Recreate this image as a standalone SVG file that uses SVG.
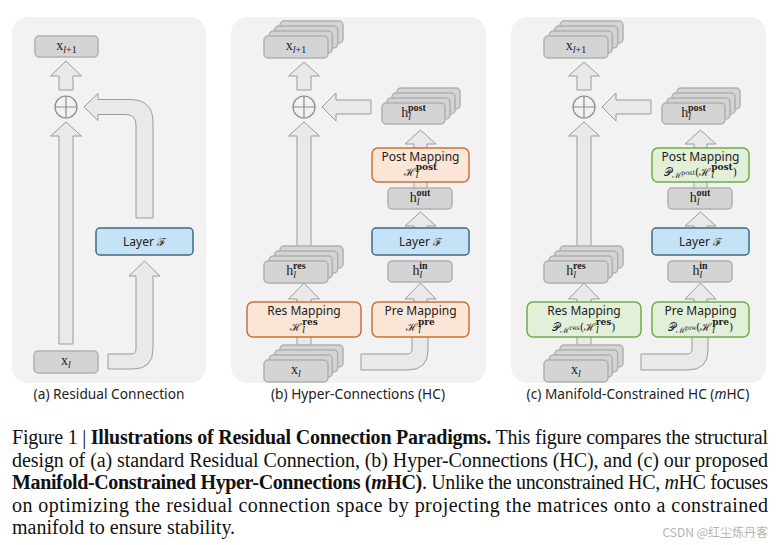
<svg xmlns="http://www.w3.org/2000/svg" width="781" height="545" viewBox="0 0 781 545">
<style>
.bg{fill:#f2f2f2}
.ar{fill:#e9e9e9;stroke:#9b9b9b;stroke-width:1}
.gb{fill:#d4d4d4;stroke:#b0b0b0;stroke-width:1.5}
.bl{fill:#c6e3f5;stroke:#3b6b85;stroke-width:1.5}
.or{fill:#fbe5d6;stroke:#c8713a;stroke-width:1.5}
.gr{fill:#e2f0d9;stroke:#70ad47;stroke-width:1.5}
.pc{fill:none;stroke:#8c8c8c;stroke-width:1.2}
.lb{font-family:"Noto Sans","DejaVu Sans",sans-serif;font-size:12px;fill:#222;text-anchor:middle}
.m{font-family:"Liberation Serif","DejaVu Serif",serif;font-size:14px;fill:#222;text-anchor:middle}
.mc{font-family:"DejaVu Serif","Liberation Serif",serif;font-size:11px;fill:#222;text-anchor:middle}
.sb{font-size:10px;font-style:italic}
.sp{font-size:10px;font-weight:bold}
.cap{font-family:"Noto Sans","DejaVu Sans",sans-serif;font-size:13.7px;fill:#222;text-anchor:middle}
.fig{font-family:"Liberation Serif",serif;font-size:20px;fill:#111}
</style>
<defs>
<g id="plus"><circle cx="0" cy="0" r="11" class="pc"/><path d="M-11,0H11M0,-11V11" class="pc"/></g>
</defs>

<g id="backgrounds">
<rect class="bg" x="12" y="17" width="194" height="366" rx="16"/>
<rect class="bg" x="231" y="17" width="255" height="366" rx="16"/>
<rect class="bg" x="511" y="17" width="255" height="366" rx="16"/>
</g>

<g id="connectors">
<path class="ar" d="M66,61 L81.5,76 L73,76 L73,90 L59,90 L59,76 L50.5,76 Z"/>
<path class="ar" d="M66,122 L81.5,136 L73,136 L73,344 L59,344 L59,136 L50.5,136 Z"/>
<path class="ar" d="M108,354 L131,354 Q136,354 136,349 L136,276 L129,276 L144.5,261 L160,276 L153,276 L153,349 Q153,369 133,369 L108,369 Z"/>
<path class="ar" d="M136,218 L136,125 Q136,114.5 125.5,114.5 L98,114.5 L98,120.5 L84,107 L98,93.5 L98,99.5 L130,99.5 Q153,99.5 153,122.5 L153,218 Z"/>
<g id="conn-b">
<path class="ar" d="M304,62 L319.5,76 L311,76 L311,90 L297,90 L297,76 L288.5,76 Z"/>
<path class="ar" d="M322,107 L336,93 L336,100 L371,100 L371,114 L336,114 L336,121 Z"/>
<path class="ar" d="M304,122 L319.5,136 L311,136 L311,250 L297,250 L297,136 L288.5,136 Z"/>
<path class="ar" d="M304,283 L319.5,299 L311,299 L311,310 L297,310 L297,299 L288.5,299 Z"/>
<path class="ar" d="M297,330 L311,330 L311,352 L297,352 Z"/>
<path class="ar" d="M420.5,130 L436,144 L427,144 L427,195 L414,195 L414,144 L405,144 Z"/>
<path class="ar" d="M420.5,212 L436,226 L427,226 L427,235 L414,235 L414,226 L405,226 Z"/>
<path class="ar" d="M420.5,283 L436,299 L427,299 L427,310 L414,310 L414,299 L405,299 Z"/>
<path class="ar" d="M361,354 L407,354 Q412,354 412,349 L412,330 L428,330 L428,350 Q428,370 408,370 L361,370 Z"/>
</g>
<use href="#conn-b" transform="translate(280,0)"/>
</g>

<g id="plus-a"><use href="#plus" x="66" y="107"/></g>
<g id="plus-b"><use href="#plus" x="304" y="107"/></g>
<g id="plus-c"><use href="#plus" x="584" y="107"/></g>

<g id="a-xl1"><rect class="gb" x="35" y="36" width="63" height="21" rx="4"/>
<text class="m" x="66.5" y="50">x<tspan class="sb" dy="3">l</tspan><tspan font-size="10">+1</tspan></text></g>
<g id="a-layer"><rect class="bl" x="96" y="228" width="97" height="27" rx="4"/>
<text class="lb" x="144.5" y="246">Layer <tspan class="mc" font-size="12">ℱ</tspan></text></g>
<g id="a-xl"><rect class="gb" x="34" y="351" width="64" height="22" rx="4"/>
<text class="m" x="66" y="365">x<tspan class="sb" dy="3">l</tspan></text></g>

<g id="b-xl1">
<rect class="gb" x="280" y="21" width="63" height="22" rx="4"/><rect class="gb" x="274.7" y="26" width="63" height="22" rx="4"/><rect class="gb" x="269.3" y="31" width="63" height="22" rx="4"/><rect class="gb" x="264" y="36" width="64" height="22" rx="4"/>
<text class="m" x="296" y="50">x<tspan class="sb" dy="3">l</tspan><tspan font-size="10">+1</tspan></text></g>
<g id="b-hpost">
<rect class="gb" x="397" y="88" width="63" height="21" rx="4"/><rect class="gb" x="392" y="93" width="63" height="21" rx="4"/><rect class="gb" x="387" y="98" width="63" height="21" rx="4"/><rect class="gb" x="382" y="103" width="63" height="21" rx="4"/>
<text class="m" x="413.5" y="117">h<tspan class="sb" dy="3">l</tspan><tspan class="sp" dx="-3" dy="-9">post</tspan></text></g>
<g id="b-post"><rect class="or" x="372" y="148" width="97" height="34" rx="6"/>
<text class="lb" x="420.5" y="160.5">Post Mapping</text>
<text class="mc" x="420.5" y="176">ℋ<tspan font-size="9" font-style="italic" dy="2">l</tspan><tspan font-size="9" font-weight="bold" dx="-3" dy="-8">post</tspan></text></g>
<g id="b-hout"><rect class="gb" x="388" y="188" width="64" height="21" rx="4"/>
<text class="m" x="420" y="202">h<tspan class="sb" dy="3">l</tspan><tspan class="sp" dx="-3" dy="-9">out</tspan></text></g>
<g id="b-layer"><rect class="bl" x="372" y="228" width="97" height="27" rx="4"/>
<text class="lb" x="420.5" y="246">Layer <tspan class="mc" font-size="12">ℱ</tspan></text></g>
<g id="b-hin"><rect class="gb" x="388" y="261" width="64" height="21" rx="4"/>
<text class="m" x="420" y="275">h<tspan class="sb" dy="3">l</tspan><tspan class="sp" dx="-3" dy="-9">in</tspan></text></g>
<g id="b-pre"><rect class="or" x="372" y="302" width="97" height="35" rx="6"/>
<text class="lb" x="420.5" y="314.5">Pre Mapping</text>
<text class="mc" x="420.5" y="331">ℋ<tspan font-size="9" font-style="italic" dy="2">l</tspan><tspan font-size="9" font-weight="bold" dx="-3" dy="-8">pre</tspan></text></g>
<g id="b-hres">
<rect class="gb" x="280" y="246" width="63" height="22" rx="4"/><rect class="gb" x="274.7" y="251" width="63" height="22" rx="4"/><rect class="gb" x="269.3" y="256" width="63" height="22" rx="4"/><rect class="gb" x="264" y="261" width="64" height="22" rx="4"/>
<text class="m" x="296" y="275">h<tspan class="sb" dy="3">l</tspan><tspan class="sp" dx="-3" dy="-9">res</tspan></text></g>
<g id="b-res"><rect class="or" x="247" y="302" width="114" height="35" rx="6"/>
<text class="lb" x="304" y="314.5">Res Mapping</text>
<text class="mc" x="304" y="331">ℋ<tspan font-size="9" font-style="italic" dy="2">l</tspan><tspan font-size="9" font-weight="bold" dx="-3" dy="-8">res</tspan></text></g>
<g id="b-xl">
<rect class="gb" x="280" y="345" width="63" height="22" rx="4"/><rect class="gb" x="274.7" y="350" width="63" height="22" rx="4"/><rect class="gb" x="269.3" y="355" width="63" height="22" rx="4"/><rect class="gb" x="264" y="360" width="64" height="22" rx="4"/>
<text class="m" x="296" y="374">x<tspan class="sb" dy="3">l</tspan></text></g>

<g id="c-xl1">
<rect class="gb" x="560" y="21" width="63" height="22" rx="4"/><rect class="gb" x="554.7" y="26" width="63" height="22" rx="4"/><rect class="gb" x="549.3" y="31" width="63" height="22" rx="4"/><rect class="gb" x="544" y="36" width="64" height="22" rx="4"/>
<text class="m" x="576" y="50">x<tspan class="sb" dy="3">l</tspan><tspan font-size="10">+1</tspan></text></g>
<g id="c-hpost">
<rect class="gb" x="677" y="88" width="63" height="21" rx="4"/><rect class="gb" x="672" y="93" width="63" height="21" rx="4"/><rect class="gb" x="667" y="98" width="63" height="21" rx="4"/><rect class="gb" x="662" y="103" width="63" height="21" rx="4"/>
<text class="m" x="693.5" y="117">h<tspan class="sb" dy="3">l</tspan><tspan class="sp" dx="-3" dy="-9">post</tspan></text></g>
<g id="c-post"><rect class="gr" x="652" y="148" width="97" height="34" rx="6"/>
<text class="lb" x="700.5" y="160.5">Post Mapping</text>
<text class="mc" x="700.5" y="176">𝒫<tspan font-size="8" dy="2">ℳ</tspan><tspan font-size="6.5" dy="-3">post</tspan><tspan dy="1">(ℋ</tspan><tspan font-size="9" font-style="italic" dy="2">l</tspan><tspan font-size="9" font-weight="bold" dx="-3" dy="-8">post</tspan><tspan dy="6">)</tspan></text></g>
<g id="c-hout"><rect class="gb" x="668" y="188" width="64" height="21" rx="4"/>
<text class="m" x="700" y="202">h<tspan class="sb" dy="3">l</tspan><tspan class="sp" dx="-3" dy="-9">out</tspan></text></g>
<g id="c-layer"><rect class="bl" x="652" y="228" width="97" height="27" rx="4"/>
<text class="lb" x="700.5" y="246">Layer <tspan class="mc" font-size="12">ℱ</tspan></text></g>
<g id="c-hin"><rect class="gb" x="668" y="261" width="64" height="21" rx="4"/>
<text class="m" x="700" y="275">h<tspan class="sb" dy="3">l</tspan><tspan class="sp" dx="-3" dy="-9">in</tspan></text></g>
<g id="c-pre"><rect class="gr" x="652" y="302" width="97" height="35" rx="6"/>
<text class="lb" x="700.5" y="314.5">Pre Mapping</text>
<text class="mc" x="700.5" y="331">𝒫<tspan font-size="8" dy="2">ℳ</tspan><tspan font-size="6.5" dy="-3">pre</tspan><tspan dy="1">(ℋ</tspan><tspan font-size="9" font-style="italic" dy="2">l</tspan><tspan font-size="9" font-weight="bold" dx="-3" dy="-8">pre</tspan><tspan dy="6">)</tspan></text></g>
<g id="c-hres">
<rect class="gb" x="560" y="246" width="63" height="22" rx="4"/><rect class="gb" x="554.7" y="251" width="63" height="22" rx="4"/><rect class="gb" x="549.3" y="256" width="63" height="22" rx="4"/><rect class="gb" x="544" y="261" width="64" height="22" rx="4"/>
<text class="m" x="576" y="275">h<tspan class="sb" dy="3">l</tspan><tspan class="sp" dx="-3" dy="-9">res</tspan></text></g>
<g id="c-res"><rect class="gr" x="527" y="302" width="114" height="35" rx="6"/>
<text class="lb" x="584" y="314.5">Res Mapping</text>
<text class="mc" x="584" y="331">𝒫<tspan font-size="8" dy="2">ℳ</tspan><tspan font-size="6.5" dy="-3">res</tspan><tspan dy="1">(ℋ</tspan><tspan font-size="9" font-style="italic" dy="2">l</tspan><tspan font-size="9" font-weight="bold" dx="-3" dy="-8">res</tspan><tspan dy="6">)</tspan></text></g>
<g id="c-xl">
<rect class="gb" x="560" y="345" width="63" height="22" rx="4"/><rect class="gb" x="554.7" y="350" width="63" height="22" rx="4"/><rect class="gb" x="549.3" y="355" width="63" height="22" rx="4"/><rect class="gb" x="544" y="360" width="64" height="22" rx="4"/>
<text class="m" x="576" y="374">x<tspan class="sb" dy="3">l</tspan></text></g>

<g id="captions">
<text class="cap" x="109" y="399">(a) Residual Connection</text>
<text class="cap" x="358" y="399">(b) Hyper-Connections (HC)</text>
<text class="cap" x="638" y="399">(c) Manifold-Constrained HC (<tspan font-style="italic">m</tspan>HC)</text>
</g>

<g id="figure-caption">
<text class="fig" x="12" y="444" textLength="756" lengthAdjust="spacing">Figure 1 | <tspan font-weight="bold">Illustrations of Residual Connection Paradigms.</tspan> This figure compares the structural</text>
<text class="fig" x="12" y="467" textLength="756" lengthAdjust="spacing">design of (a) standard Residual Connection, (b) Hyper-Connections (HC), and (c) our proposed</text>
<text class="fig" x="12" y="489" textLength="756" lengthAdjust="spacing"><tspan font-weight="bold">Manifold-Constrained Hyper-Connections (<tspan font-style="italic">m</tspan>HC)</tspan>. Unlike the unconstrained HC, <tspan font-style="italic">m</tspan>HC focuses</text>
<text class="fig" x="12" y="512" textLength="756" lengthAdjust="spacing">on optimizing the residual connection space by projecting the matrices onto a constrained</text>
<text class="fig" x="12" y="534">manifold to ensure stability.</text>
<text x="768" y="537" text-anchor="end" font-family="'Noto Sans CJK SC',sans-serif" font-size="12" fill="#b4b4b4">CSDN @红尘炼丹客</text>
</g>
</svg>
